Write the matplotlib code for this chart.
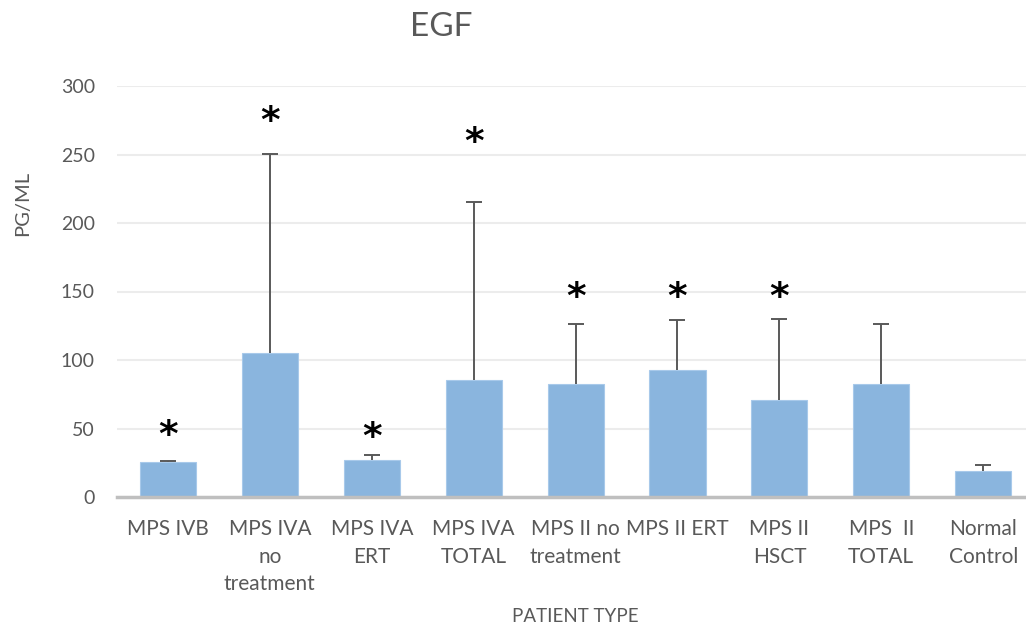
import matplotlib.pyplot as plt
import matplotlib.transforms as mtransforms

plt.rcParams['font.family'] = ['Lato', 'DejaVu Sans']

groups = ["MPS IVB", "MPS IVA\nno\ntreatment", "MPS IVA\nERT", "MPS IVA\nTOTAL",
          "MPS II no\ntreatment", "MPS II ERT", "MPS II\nHSCT", "MPS  II\nTOTAL",
          "Normal\nControl"]
means = [25.5, 105, 27, 85.5, 82.5, 92.5, 71, 82.5, 19]
sd = [1, 145.5, 4, 130, 43.5, 36.5, 59, 43.5, 4.5]
# significance marks: which groups get a star and where
star_at = [0, 1, 2, 3, 4, 5, 6]
star_y = [51, 280, 50, 265, 152, 152, 152]

text_col = '#595959'
bar_col = '#8AB5DE'

fig = plt.figure(figsize=(10.26, 6.29), dpi=100)
ax = fig.add_axes([117 / 1026, 1 - 497 / 629, 909 / 1026, 411 / 629])

x = list(range(len(groups)))
tops = [m + s for m, s in zip(means, sd)]
ax.bar(x, means, width=0.55, color=bar_col, edgecolor='#A8C9EA', linewidth=0.8, zorder=2)
# upper error bars only, cap on top
ax.vlines(x, means, tops, color=text_col, linewidth=1.4, zorder=3)
ax.plot(x, tops, linestyle='none', marker='_', markersize=11.5, markeredgewidth=1.4,
        color=text_col, zorder=3)

star_shift = mtransforms.offset_copy(ax.transData, fig=fig, x=0, y=-9, units='dots')
for i, yy in zip(star_at, star_y):
    ax.text(i, yy, '*', ha='center', va='center', fontsize=27, fontweight='bold',
            color='black', family='DejaVu Sans', clip_on=False, transform=star_shift)

ax.set_xlim(-0.5, 8.42)
ax.set_ylim(0, 300)
ax.set_yticks(range(0, 301, 50))
ax.yaxis.grid(True, color='#ECECEC', linewidth=1.5, zorder=0)
ax.set_axisbelow(True)
for s in ['top', 'right', 'left']:
    ax.spines[s].set_visible(False)
ax.spines['bottom'].set_color('#BFBFBF')
ax.spines['bottom'].set_linewidth(2.5)
ax.spines['bottom'].set_zorder(4)

ax.set_xticks(x)
ax.set_xticklabels(groups, fontsize=15, color=text_col, linespacing=1.47)
ax.tick_params(axis='x', length=0, pad=16)
ax.tick_params(axis='y', length=0, pad=16, labelsize=14, labelcolor=text_col)

fig.text(23 / 1026, 1 - 203 / 629, 'PG/ML', rotation=90, ha='center', va='center',
         fontsize=14.5, color=text_col)
fig.text(575 / 1026, 1 - 617 / 629, 'PATIENT TYPE', ha='center', va='center',
         fontsize=13.5, color=text_col)
fig.text(441 / 1026, 1 - 27 / 629, 'EGF', ha='center', va='center',
         fontsize=24, color=text_col, fontweight='normal')

fig.savefig('out.png', dpi=100)
